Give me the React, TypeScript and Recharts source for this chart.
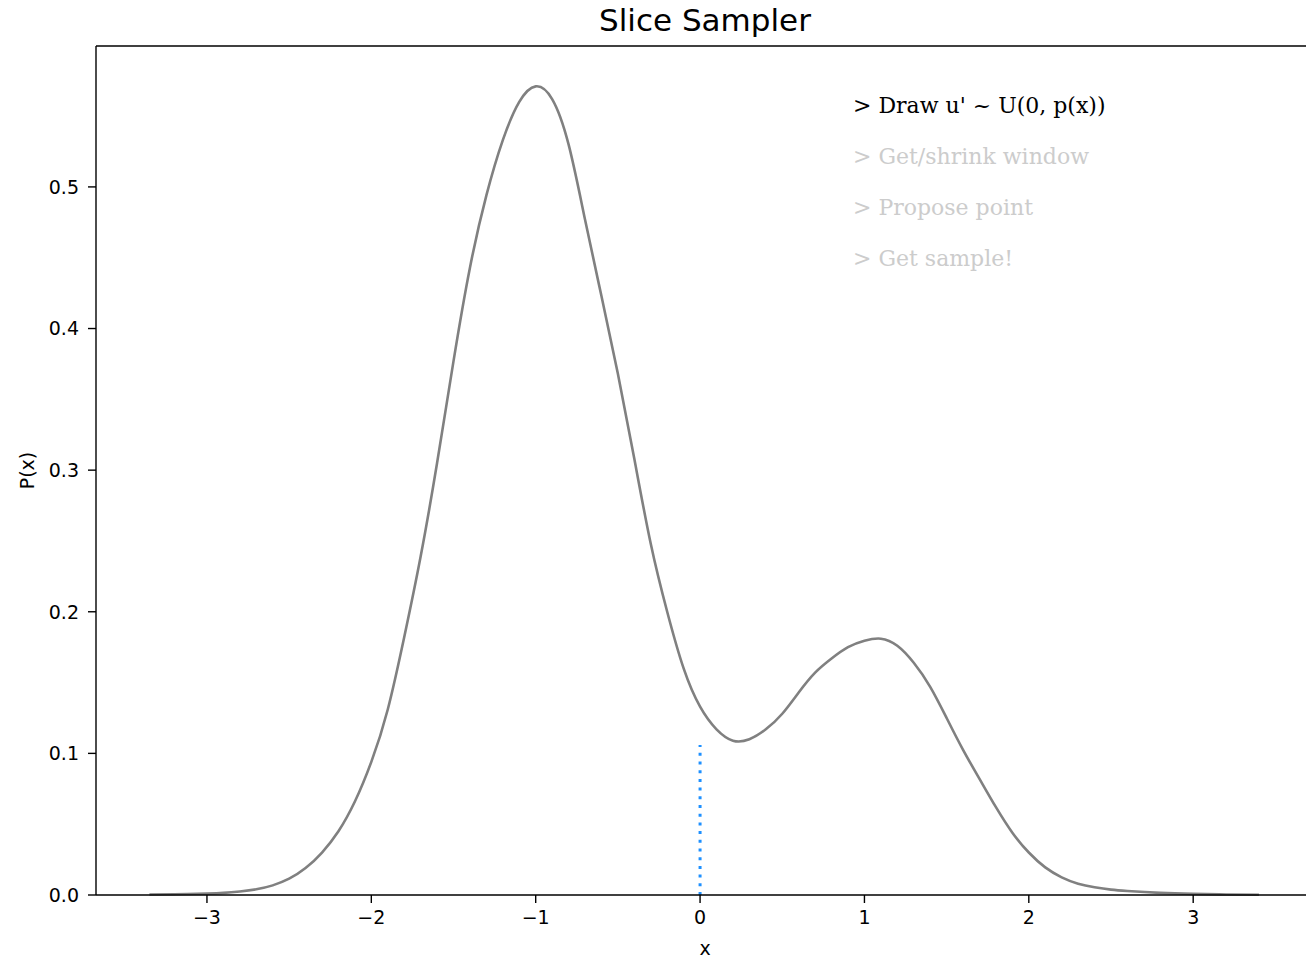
import { Line, LineChart, ReferenceLine, XAxis, YAxis } from "recharts";

// density curve
const xs = [
  -3.35, -3.2, -3.0, -2.9, -2.8, -2.7, -2.6, -2.5, -2.4, -2.3, -2.2, -2.1,
  -2.0, -1.9, -1.8, -1.7, -1.6, -1.5, -1.4, -1.3, -1.2, -1.1, -1.0, -0.9,
  -0.8, -0.7, -0.6, -0.5, -0.4, -0.3, -0.2, -0.1, 0.0, 0.1, 0.2, 0.3, 0.4,
  0.5, 0.6, 0.7, 0.8, 0.9, 1.0, 1.1, 1.2, 1.3, 1.4, 1.5, 1.6, 1.7, 1.8, 1.9,
  2.0, 2.1, 2.2, 2.3, 2.4, 2.5, 2.6, 2.8, 3.0, 3.2, 3.4,
];
const px = [
  0.0003, 0.0005, 0.001, 0.0015, 0.0025, 0.004, 0.0068, 0.0115, 0.019, 0.03,
  0.045, 0.066, 0.094, 0.131, 0.182, 0.239, 0.305, 0.377, 0.443, 0.494, 0.533,
  0.56, 0.571, 0.562, 0.53, 0.477, 0.423, 0.368, 0.308, 0.248, 0.2, 0.16,
  0.133, 0.117, 0.109, 0.11, 0.117, 0.128, 0.143, 0.157, 0.167, 0.175, 0.1795,
  0.181, 0.176, 0.164, 0.147, 0.125, 0.1025, 0.082, 0.062, 0.044, 0.03,
  0.0195, 0.0125, 0.008, 0.0055, 0.0038, 0.0028, 0.0015, 0.0008, 0.0004, 0.0002,
];

// the drawn u' segment at x = 0
const sliceX = [0, 0];
const sliceU = [0, 0.106];

const xTicks = [-3, -2, -1, 0, 1, 2, 3];
const yTicks = [0, 0.1, 0.2, 0.3, 0.4, 0.5];
const X_DOMAIN: [number, number] = [-3.675, 3.735];
const Y_TOP = 0.5995;

const steps = [
  "> Draw u' ~ U(0, p(x))",
  "> Get/shrink window",
  "> Propose point",
  "> Get sample!",
];
const activeStep = 0;

const curve = xs.map((x, i) => ({ x, p: px[i] }));
const slice = sliceX.map((x, i) => ({ x, y: sliceU[i] }));

const TICK_STYLE = { fill: "#000", fontSize: 19, fontFamily: "DejaVu Sans" };
const AXIS = { stroke: "#000", strokeWidth: 1.4 };

export default function App() {
  return (
    <div
      style={{
        position: "absolute",
        left: 0,
        top: 0,
        width: 1306,
        height: 963,
        overflow: "hidden",
        background: "#fff",
        fontFamily: "DejaVu Sans",
      }}
    >
      <LineChart
        width={1330}
        height={963}
        margin={{ top: 46, right: 16, bottom: 0, left: 0 }}
      >
        <XAxis
          dataKey="x"
          type="number"
          domain={X_DOMAIN}
          ticks={xTicks}
          tickFormatter={(v: number) => String(v).replace("-", "\u2212")}
          tick={TICK_STYLE}
          tickSize={8}
          tickMargin={8}
          height={68}
          axisLine={AXIS}
          tickLine={AXIS}
          label={{
            value: "x",
            position: "insideBottom",
            offset: 8,
            style: { fill: "#000", fontSize: 19, fontFamily: "DejaVu Sans" },
          }}
        />
        <YAxis
          type="number"
          domain={[0, Y_TOP]}
          ticks={yTicks}
          tickFormatter={(v: number) => v.toFixed(1)}
          tick={TICK_STYLE}
          tickSize={8}
          tickMargin={9}
          width={96}
          axisLine={AXIS}
          tickLine={AXIS}
          label={{
            value: "P(x)",
            angle: -90,
            position: "insideLeft",
            offset: 27,
            style: {
              textAnchor: "middle",
              fill: "#000",
              fontSize: 19,
              fontFamily: "DejaVu Sans",
            },
          }}
        />
        {/* top spine */}
        <ReferenceLine y={Y_TOP} stroke="#000" strokeWidth={1.4} />
        <Line
          data={curve}
          dataKey="p"
          type="natural"
          stroke="#808080"
          strokeWidth={2.6}
          dot={false}
          activeDot={false}
          isAnimationActive={false}
        />
        <Line
          data={slice}
          dataKey="y"
          type="linear"
          stroke="#1e90ff"
          strokeWidth={3}
          strokeDasharray="3 5.7"
          dot={false}
          activeDot={false}
          isAnimationActive={false}
        />
      </LineChart>

      <svg
        width={1306}
        height={963}
        style={{ position: "absolute", left: 0, top: 0, pointerEvents: "none" }}
      >
        <text
          x={705}
          y={31}
          textAnchor="middle"
          fontSize={31}
          fontFamily="DejaVu Sans"
          fill="#000"
        >
          Slice Sampler
        </text>
        {steps.map((s, i) => (
          <text
            key={s}
            x={853}
            y={113 + i * 51.1}
            fontSize={22}
            fontFamily="DejaVu Serif"
            fill={i === activeStep ? "#000" : "#cccccc"}
          >
            {s}
          </text>
        ))}
      </svg>
    </div>
  );
}
